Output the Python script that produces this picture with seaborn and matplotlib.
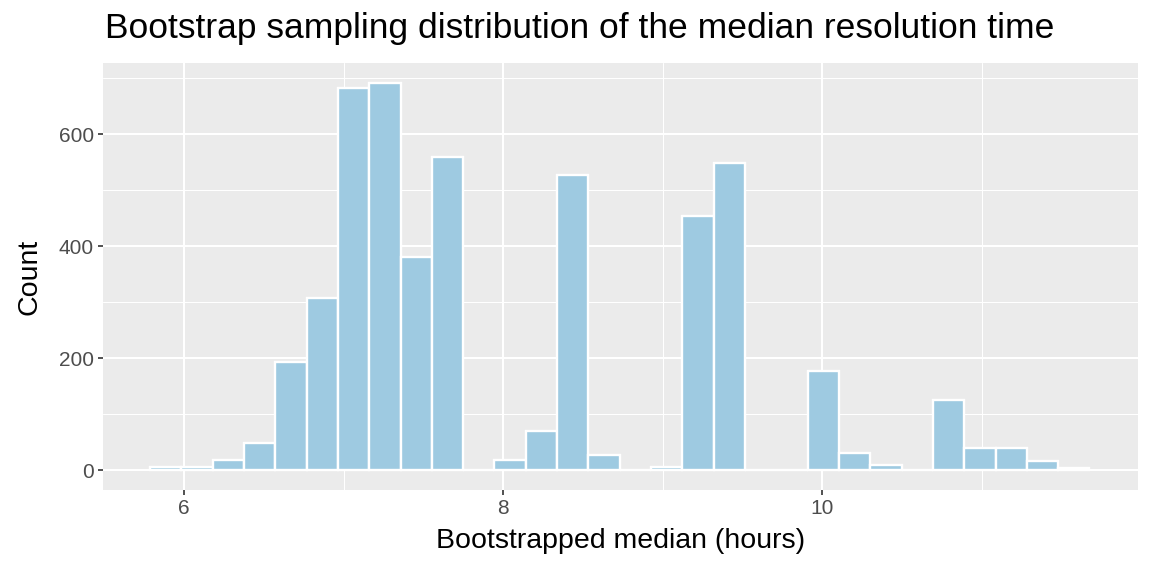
import numpy as np
import pandas as pd
import seaborn as sns
import matplotlib.pyplot as plt
from matplotlib.ticker import MultipleLocator

# histogram counts (30 bins)
bin_start = 5.787
bin_width = 0.1963
counts = [6, 6, 18, 49, 193, 307, 682, 692, 381, 560,
          0, 18, 70, 527, 26, 0, 5, 454, 549, 0,
          0, 177, 31, 9, 0, 125, 40, 39, 16, 3]

x_ticks = [6, 8, 10]
y_ticks = [0, 200, 400, 600]

TITLE = "Bootstrap sampling distribution of the median resolution time"
XLABEL = "Bootstrapped median (hours)"
YLABEL = "Count"

FILL = "#9ECAE1"
PANEL = "#EBEBEB"

sns.set_theme(style="darkgrid")
plt.rcParams["font.family"] = ["Liberation Sans", "DejaVu Sans"]

edges = bin_start + bin_width * np.arange(len(counts) + 1)
df = pd.DataFrame({"median": (edges[:-1] + edges[1:]) / 2, "count": counts})

fig = plt.figure(figsize=(11.52, 5.76), dpi=100)
ax = fig.add_axes([0.0894, 0.1493, 0.8984, 0.7413])
ax.set_facecolor(PANEL)

sns.histplot(data=df, x="median", weights="count", bins=list(edges), color=FILL,
             edgecolor="white", linewidth=1.7, alpha=1, ax=ax)

ax.set_xlim(5.492, 11.98)
ax.set_ylim(-35.7, 727)
ax.set_xticks(x_ticks)
ax.set_yticks(y_ticks)
ax.xaxis.set_minor_locator(MultipleLocator(1))
ax.yaxis.set_minor_locator(MultipleLocator(100))
ax.grid(which="major", color="white", linewidth=1.5)
ax.grid(which="minor", color="white", linewidth=0.75)
ax.set_axisbelow(True)
for s in ax.spines.values():
    s.set_visible(False)

ax.tick_params(which="major", length=3.5, width=1.2, color="#333333",
               labelsize=15, labelcolor="#4D4D4D", pad=3,
               bottom=True, left=True)
ax.tick_params(which="minor", length=0)

ax.set_xlabel(XLABEL, fontsize=20.5, color="black", labelpad=7)
ax.set_ylabel(YLABEL, fontsize=20.5, color="black", labelpad=12)
fig.text(0.0911, 0.951, TITLE, fontsize=25.5, ha="left", va="center", color="black")

fig.savefig("out.png", dpi=100)
